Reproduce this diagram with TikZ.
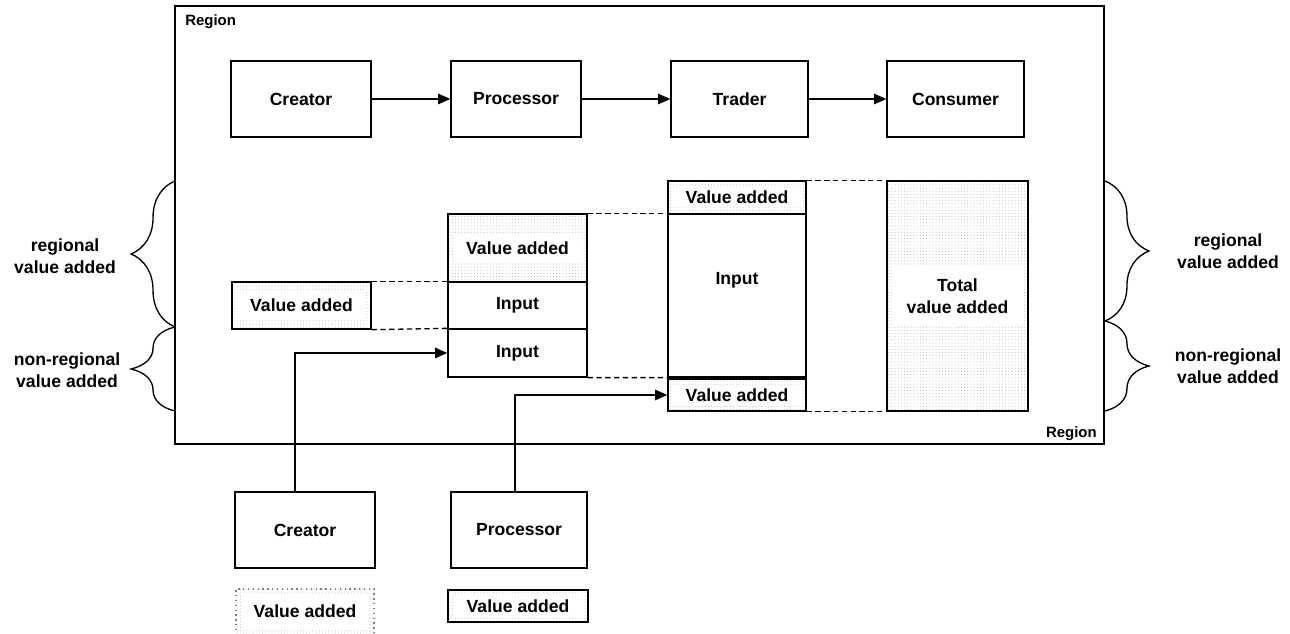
\documentclass[tikz,border=0pt]{standalone}
\usepackage{fontspec}
\setmainfont{Liberation Sans}
\usetikzlibrary{arrows.meta,patterns,calc,decorations.pathreplacing}

% fine dot pattern for the value-added shading
\pgfdeclarepatternformonly{finedots}{\pgfqpoint{-0.3pt}{-0.3pt}}{\pgfqpoint{0.3pt}{0.3pt}}{\pgfqpoint{1.8pt}{1.8pt}}{%
  \pgfpathcircle{\pgfqpoint{0pt}{0pt}}{0.3pt}\pgfusepath{fill}}

% rectangle node from two corners: \rectnode[style]{name}{x1}{y1}{x2}{y2}{text}
\newcommand\rectnode[7][]{%
  \node[#1, minimum width={(#5-#3)*0.02cm}, minimum height={(#6-#4)*0.02cm}]
    (#2) at ({(#3+#5)/2},{(#4+#6)/2}) {#7};}

\begin{document}
\begin{tikzpicture}[x=0.02cm,y=-0.02cm,
  lbl/.style={font=\fontsize{10}{12.5}\selectfont\bfseries, align=center},
  box/.style={draw, line width=0.75pt, inner sep=0pt, lbl},
  vabox/.style={draw, line width=0.75pt, inner sep=0pt, pattern=finedots, pattern color=gray!55},
  vatext/.style={lbl, fill=white, inner xsep=0pt, inner ysep=4.5pt},
  arr/.style={line width=0.75pt, -{Triangle[length=7pt,width=6pt]}},
  link/.style={line width=0.75pt, dash pattern=on 3pt off 2pt},
  brc/.style={line width=0.75pt, decorate, decoration={brace, amplitude=#1}},
  regionlbl/.style={font=\fontsize{8.5}{10}\selectfont\bfseries, inner sep=0pt}]

\clip (0,0) rectangle (1290,634);

% region frame
\rectnode[draw, line width=0.75pt, inner sep=0pt]{region}{175}{6}{1104}{444}{}
\node[regionlbl, anchor=north west] (rtl) at (185,14) {Region};
\node[regionlbl, anchor=south east] (rbr) at (1097,441) {Region};

% value chain inside the region
\rectnode[box]{cre}{231}{61}{371}{137}{Creator}
\rectnode[box]{pro}{451}{61}{581}{137}{Processor}
\rectnode[box]{tra}{671}{61}{808}{137}{Trader}
\rectnode[box]{con}{887}{61}{1024}{137}{Consumer}
\draw[arr] (cre) -- (pro);
\draw[arr] (pro) -- (tra);
\draw[arr] (tra) -- (con);

% creator stage
\rectnode[vabox]{va1}{232}{282}{371}{329}{}
\node[vatext, minimum width=2.58cm] (va1t) at (va1.center) {Value added};

% processor stage
\rectnode[vabox]{va2}{448}{214}{587}{282}{}
\node[vatext, minimum width=2.58cm] (va2t) at (va2.center) {Value added};
\rectnode[box]{in2a}{448}{282}{587}{329}{Input}
\rectnode[box]{in2b}{448}{329}{587}{377}{Input}

% trader stage
\rectnode[vabox]{va3a}{668}{181}{806}{214}{}
\node[vatext, minimum width=2.56cm, inner ysep=2pt] (va3at) at (va3a.center) {Value added};
\rectnode[box, text depth=19pt]{in3}{668}{214}{806}{377}{Input}
\rectnode[vabox]{va3b}{668}{379}{806}{411}{}
\node[vatext, minimum width=2.56cm, inner ysep=2pt] (va3bt) at (va3b.center) {Value added};

% total
\rectnode[vabox]{tot}{887}{181}{1028}{411}{}
\node[vatext, minimum width=2.62cm, inner ysep=7pt] (tott) at (tot.center) {Total\\value added};

% dashed guide lines
\draw[link] (va1.north east) -- (in2a.north west);
\draw[link] (va1.south east) -- (in2b.north west);
\draw[link] (va2.north east) -- (in3.north west);
\draw[link] (in2b.south east) -- (in3.south west);
\draw[link] (va3a.north east) -- (tot.north west);
\draw[link] (va3b.south east) -- (tot.south west);

% actors outside the region
\rectnode[box]{xcre}{235}{492}{375}{568}{Creator}
\rectnode[box]{xpro}{451}{492}{587}{568}{Processor}
\rectnode[vabox, draw=gray, dotted]{xva1}{236}{589}{374}{650}{}
\node[vatext, minimum width=2.56cm, inner ysep=6pt] (xva1t) at (305,611) {Value added};
\rectnode[vabox]{xva2}{448}{590}{588}{622}{}
\node[vatext, minimum width=2.6cm, inner ysep=2pt] (xva2t) at (xva2.center) {Value added};

\draw[arr] ($(xcre.north west)!0.43!(xcre.north east)$) |- (in2b.west);
\draw[arr] ($(xpro.north west)!0.47!(xpro.north east)$) |- (va3b.west);

% braces on the left
\coordinate (lb0) at (175,411);
\coordinate (lb1) at (175,327);
\coordinate (lb2) at (175,181);
\draw[brc=25pt] (lb1) -- (lb2);
\draw[brc=25pt] (lb0) -- (lb1);
\node[lbl] (lreg) at (65,256) {regional\\value added};
\node[lbl] (lnon) at (67,370) {non-regional\\value added};

% braces on the right
\coordinate (rb0) at (1105,181);
\coordinate (rb1) at (1105,321);
\coordinate (rb2) at (1105,411);
\draw[brc=25pt] (rb0) -- (rb1);
\draw[brc=25pt] (rb1) -- (rb2);
\node[lbl] (rreg) at (1228,251) {regional\\value added};
\node[lbl] (rnon) at (1228,366) {non-regional\\value added};

\end{tikzpicture}
\end{document}
